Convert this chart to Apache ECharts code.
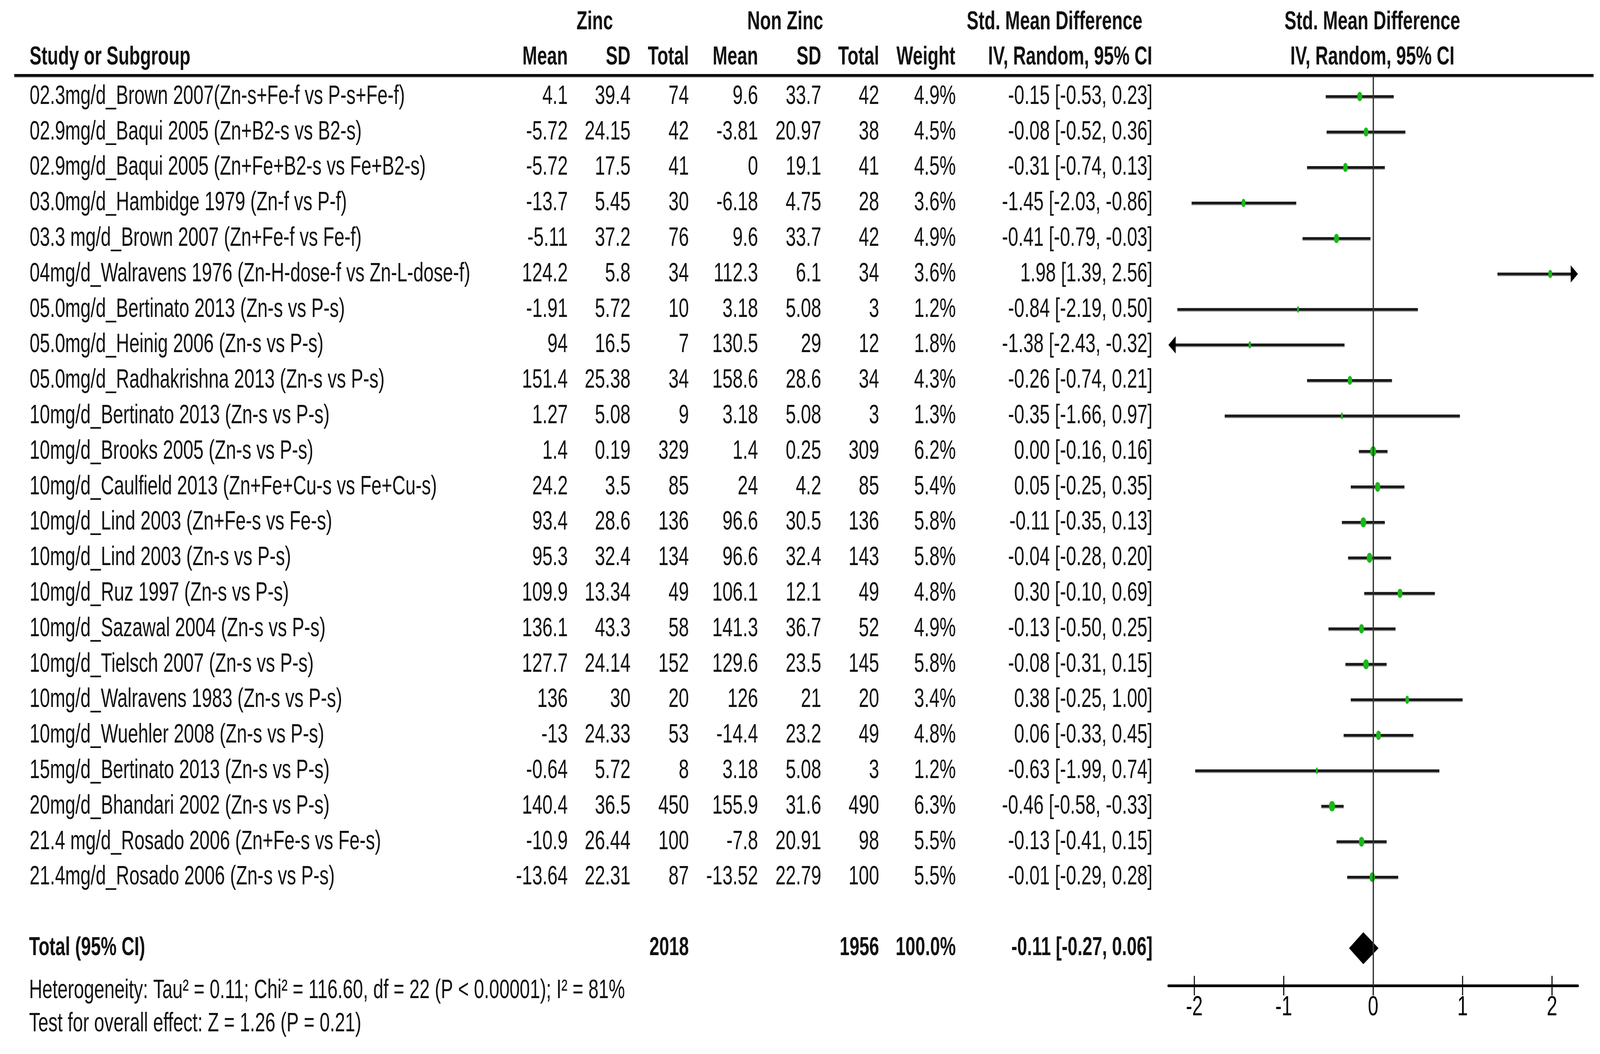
<!DOCTYPE html>
<html><head><meta charset="utf-8">
<script src="https://cdn.jsdelivr.net/npm/echarts@6/dist/echarts.min.js"></script>
<style>html,body{margin:0;padding:0;background:#fff;overflow:hidden}#wrap{overflow:hidden}#c{width:5946px;height:2697px;transform-origin:0 0}</style>
</head><body><div id="wrap"><div id="c"></div></div>
<script>
// ---------------- DATA ----------------
const studyLabels = [
 "02.3mg/d_Brown 2007(Zn-s+Fe-f vs P-s+Fe-f)",
 "02.9mg/d_Baqui 2005 (Zn+B2-s vs B2-s)",
 "02.9mg/d_Baqui 2005 (Zn+Fe+B2-s vs Fe+B2-s)",
 "03.0mg/d_Hambidge 1979 (Zn-f vs P-f)",
 "03.3 mg/d_Brown 2007 (Zn+Fe-f vs Fe-f)",
 "04mg/d_Walravens 1976 (Zn-H-dose-f vs Zn-L-dose-f)",
 "05.0mg/d_Bertinato 2013 (Zn-s vs P-s)",
 "05.0mg/d_Heinig 2006 (Zn-s vs P-s)",
 "05.0mg/d_Radhakrishna 2013 (Zn-s vs P-s)",
 "10mg/d_Bertinato 2013 (Zn-s vs P-s)",
 "10mg/d_Brooks 2005 (Zn-s vs P-s)",
 "10mg/d_Caulfield 2013 (Zn+Fe+Cu-s vs Fe+Cu-s)",
 "10mg/d_Lind 2003 (Zn+Fe-s vs Fe-s)",
 "10mg/d_Lind 2003 (Zn-s vs P-s)",
 "10mg/d_Ruz 1997 (Zn-s vs P-s)",
 "10mg/d_Sazawal 2004 (Zn-s vs P-s)",
 "10mg/d_Tielsch 2007 (Zn-s vs P-s)",
 "10mg/d_Walravens 1983 (Zn-s vs P-s)",
 "10mg/d_Wuehler 2008 (Zn-s vs P-s)",
 "15mg/d_Bertinato 2013 (Zn-s vs P-s)",
 "20mg/d_Bhandari 2002 (Zn-s vs P-s)",
 "21.4 mg/d_Rosado 2006 (Zn+Fe-s vs Fe-s)",
 "21.4mg/d_Rosado 2006 (Zn-s vs P-s)"
];
const zincMean  = [4.1,-5.72,-5.72,-13.7,-5.11,124.2,-1.91,94,151.4,1.27,1.4,24.2,93.4,95.3,109.9,136.1,127.7,136,-13,-0.64,140.4,-10.9,-13.64];
const zincSD    = [39.4,24.15,17.5,5.45,37.2,5.8,5.72,16.5,25.38,5.08,0.19,3.5,28.6,32.4,13.34,43.3,24.14,30,24.33,5.72,36.5,26.44,22.31];
const zincTotal = [74,42,41,30,76,34,10,7,34,9,329,85,136,134,49,58,152,20,53,8,450,100,87];
const nonMean   = [9.6,-3.81,0,-6.18,9.6,112.3,3.18,130.5,158.6,3.18,1.4,24,96.6,96.6,106.1,141.3,129.6,126,-14.4,3.18,155.9,-7.8,-13.52];
const nonSD     = [33.7,20.97,19.1,4.75,33.7,6.1,5.08,29,28.6,5.08,0.25,4.2,30.5,32.4,12.1,36.7,23.5,21,23.2,5.08,31.6,20.91,22.79];
const nonTotal  = [42,38,41,28,42,34,3,12,34,3,309,85,136,143,49,52,145,20,49,3,490,98,100];
const weights   = [4.9,4.5,4.5,3.6,4.9,3.6,1.2,1.8,4.3,1.3,6.2,5.4,5.8,5.8,4.8,4.9,5.8,3.4,4.8,1.2,6.3,5.5,5.5];
const smd       = [-0.15,-0.08,-0.31,-1.45,-0.41,1.98,-0.84,-1.38,-0.26,-0.35,0.00,0.05,-0.11,-0.04,0.30,-0.13,-0.08,0.38,0.06,-0.63,-0.46,-0.13,-0.01];
const ciLow     = [-0.53,-0.52,-0.74,-2.03,-0.79,1.39,-2.19,-2.43,-0.74,-1.66,-0.16,-0.25,-0.35,-0.28,-0.10,-0.50,-0.31,-0.25,-0.33,-1.99,-0.58,-0.41,-0.29];
const ciHigh    = [0.23,0.36,0.13,-0.86,-0.03,2.56,0.50,-0.32,0.21,0.97,0.16,0.35,0.13,0.20,0.69,0.25,0.15,1.00,0.45,0.74,-0.33,0.15,0.28];
const totalZinc = 2018;
const totalNon  = 1956;
const totalWeight = 100.0;
const pooled    = [-0.11, -0.27, 0.06];
const heterogeneityText = "Heterogeneity: Tau\u00B2 = 0.11; Chi\u00B2 = 116.60, df = 22 (P < 0.00001); I\u00B2 = 81%";
const overallText = "Test for overall effect: Z = 1.26 (P = 0.21)";
const xTicks = [-2, -1, 0, 1, 2];
const xRange = [-2.29, 2.29];

// ---------------- LAYOUT ----------------
const W = 5946, H = 2697;
// fit the 5946x2697 design to the actual viewport
const vw = window.innerWidth || W, vh = window.innerHeight || H;
const sx = vw / W, sy = vh / H;
const wrap = document.getElementById('wrap');
wrap.style.width = vw + 'px';
wrap.style.height = vh + 'px';
document.getElementById('c').style.transform = 'scale(' + sx + ',' + sy + ')';

const ROW0 = 247, PITCH = 90.8;
const rowOf = y => (y - ROW0) / PITCH;
const HEAD_LINE = rowOf(193), AXIS_ROW = rowOf(2522);
const FONT = '"Liberation Sans", Arial, sans-serif';
const FS = 68, FSB = 66;
const TXT = '#111';

const fmtCI = (e, l, h) => e.toFixed(2) + ' [' + l.toFixed(2) + ', ' + h.toFixed(2) + ']';

const cells = [];
function col(texts, x, align, bold, rows) {
  texts.forEach((t, i) => cells.push([String(t), rows ? rows[i] : i, x, align, bold]));
}
const R1 = rowOf(57), R2 = rowOf(147), RT = 24, RH = rowOf(2535), RO = rowOf(2620);
col(['Zinc'], 2210, 'center', true, [R1]);
col(['Non Zinc'], 2918, 'center', true, [R1]);
col(['Std. Mean Difference'], 3919, 'center', true, [R1]);
col(['Std. Mean Difference'], 5100, 'center', true, [R1]);
col(['Study or Subgroup'], 110, 'left', true, [R2]);
col(['Mean'], 2110, 'right', true, [R2]);
col(['SD'], 2343, 'right', true, [R2]);
col(['Total'], 2560, 'right', true, [R2]);
col(['Mean'], 2817, 'right', true, [R2]);
col(['SD'], 3052, 'right', true, [R2]);
col(['Total'], 3267, 'right', true, [R2]);
col(['Weight'], 3550, 'right', true, [R2]);
col(['IV, Random, 95% CI'], 3977, 'center', true, [R2]);
col(['IV, Random, 95% CI'], 5100, 'center', true, [R2]);
col(studyLabels, 110, 'left', false);
col(zincMean, 2110, 'right', false);
col(zincSD, 2343, 'right', false);
col(zincTotal, 2560, 'right', false);
col(nonMean, 2817, 'right', false);
col(nonSD, 3052, 'right', false);
col(nonTotal, 3267, 'right', false);
col(weights.map(w => w.toFixed(1) + '%'), 3552, 'right', false);
col(smd.map((e, i) => fmtCI(e, ciLow[i], ciHigh[i])), 4283, 'right', false);
col(['Total (95% CI)'], 108, 'left', true, [RT]);
col([totalZinc], 2560, 'right', true, [RT]);
col([totalNon], 3267, 'right', true, [RT]);
col([totalWeight.toFixed(1) + '%'], 3552, 'right', true, [RT]);
col([fmtCI(pooled[0], pooled[1], pooled[2])], 4283, 'right', true, [RT]);
col([heterogeneityText], 108, 'left', false, [RH]);
col([overallText], 108, 'left', false, [RO]);

const chart = echarts.init(document.getElementById('c'), null, {renderer: 'canvas', width: W, height: H});
const gridTop = 193, gridBottom = H - 2522;
const option = {
  backgroundColor: '#fff',
  animation: false,
  grid: [
    {left: 0, right: 0, top: 0, bottom: 0},
    {left: 4342, width: 1522, top: gridTop, bottom: gridBottom}
  ],
  xAxis: [
    {gridIndex: 0, type: 'value', min: 0, max: W, show: false},
    {gridIndex: 1, type: 'value', min: xRange[0], max: xRange[1], position: 'bottom',
     axisLine: {show: true, onZero: false, lineStyle: {color: '#000', width: 7}},
     axisTick: {show: false},
     splitLine: {show: false},
     axisLabel: {show: true, customValues: xTicks, showMinLabel: true, showMaxLabel: true,
       formatter: v => String(Math.round(v)),
       fontSize: 70, color: '#000', fontFamily: FONT, margin: 22}}
  ],
  yAxis: [
    {gridIndex: 0, type: 'value', inverse: true, min: rowOf(0), max: rowOf(H), show: false},
    {gridIndex: 1, type: 'value', inverse: true, min: HEAD_LINE, max: AXIS_ROW, show: false}
  ],
  series: [
    {
      type: 'custom', xAxisIndex: 0, yAxisIndex: 0, silent: true, clip: false,
      data: cells.map(c => [c[2], c[1]]),
      renderItem: (params, api) => {
        const c = cells[params.dataIndex];
        const p = api.coord([api.value(0), api.value(1)]);
        return {type: 'text', x: p[0], y: p[1], silent: true,
          style: {text: c[0], fill: TXT, fontSize: c[4] ? FSB : FS, fontWeight: c[4] ? 'bold' : 'normal',
                  fontFamily: FONT, align: c[3], verticalAlign: 'middle'}};
      }
    },
    {
      type: 'custom', xAxisIndex: 0, yAxisIndex: 0, silent: true, clip: false,
      data: [[HEAD_LINE]],
      renderItem: (params, api) => {
        const a = api.coord([53, api.value(0)]), b = api.coord([5922, api.value(0)]);
        return {type: 'group', children: [
          {type: 'line', shape: {x1: a[0], y1: a[1] + 3, x2: b[0], y2: b[1] + 3}, style: {stroke: '#bbb', lineWidth: 6}},
          {type: 'line', shape: {x1: a[0], y1: a[1], x2: b[0], y2: b[1]}, style: {stroke: '#000', lineWidth: 7}}
        ]};
      }
    },
    {
      type: 'custom', xAxisIndex: 1, yAxisIndex: 1, silent: true, clip: false,
      data: xTicks.map(t => [t]),
      renderItem: (params, api) => {
        const p = api.coord([api.value(0), AXIS_ROW]);
        return {type: 'line', shape: {x1: p[0], y1: p[1] - 25, x2: p[0], y2: p[1] + 25},
                style: {stroke: '#000', lineWidth: 4}};
      },
      markLine: {silent: true, symbol: ['none', 'none'], label: {show: false},
        lineStyle: {color: '#333', width: 5, type: 'solid'}, data: [{xAxis: 0}]}
    },
    {
      type: 'custom', xAxisIndex: 1, yAxisIndex: 1, silent: true, clip: false,
      data: smd.map((e, i) => [i, e, ciLow[i], ciHigh[i], weights[i]]),
      renderItem: (params, api) => {
        const r = api.value(0), e = api.value(1), lo = api.value(2), hi = api.value(3), w = api.value(4);
        const loC = Math.max(lo, xRange[0]), hiC = Math.min(hi, xRange[1]);
        const pl = api.coord([loC, r]), ph = api.coord([hiC, r]), pe = api.coord([e, r]);
        const y = pl[1];
        const AW = 27, AH = 22;
        const kids = [];
        const x1 = lo < xRange[0] ? pl[0] + AW : pl[0];
        const x2 = hi > xRange[1] ? ph[0] - AW : ph[0];
        kids.push({type: 'line', shape: {x1: x1, y1: y + 3, x2: x2, y2: y + 3}, style: {stroke: '#aaa', lineWidth: 6}});
        kids.push({type: 'line', shape: {x1: x1, y1: y, x2: x2, y2: y}, style: {stroke: '#1a1a1a', lineWidth: 7}});
        if (lo < xRange[0]) kids.push({type: 'polygon', shape: {points: [[pl[0], y], [pl[0] + AW, y - AH], [pl[0] + AW, y + AH]]}, style: {fill: '#000'}});
        if (hi > xRange[1]) kids.push({type: 'polygon', shape: {points: [[ph[0], y], [ph[0] - AW, y - AH], [ph[0] - AW, y + AH]]}, style: {fill: '#000'}});
        const mw = 3 + 3 * w, mh = 14 + 2 * w;
        kids.push({type: 'rect', shape: {x: pe[0] - mw / 2, y: y - mh / 2, width: mw, height: mh, r: mw / 2}, style: {fill: '#19b919'}});
        return {type: 'group', children: kids};
      }
    },
    {
      type: 'custom', xAxisIndex: 1, yAxisIndex: 1, silent: true, clip: false,
      data: [[RT, pooled[0], pooled[1], pooled[2]]],
      renderItem: (params, api) => {
        const r = api.value(0);
        const pe = api.coord([api.value(1), r]), pl = api.coord([api.value(2), r]), ph = api.coord([api.value(3), r]);
        const y = pe[1], hh = 41;
        return {type: 'polygon', shape: {points: [[pl[0], y], [pe[0], y - hh], [ph[0], y], [pe[0], y + hh]]}, style: {fill: '#000'}};
      }
    }
  ]
};
chart.setOption(option);
</script>
</body></html>
